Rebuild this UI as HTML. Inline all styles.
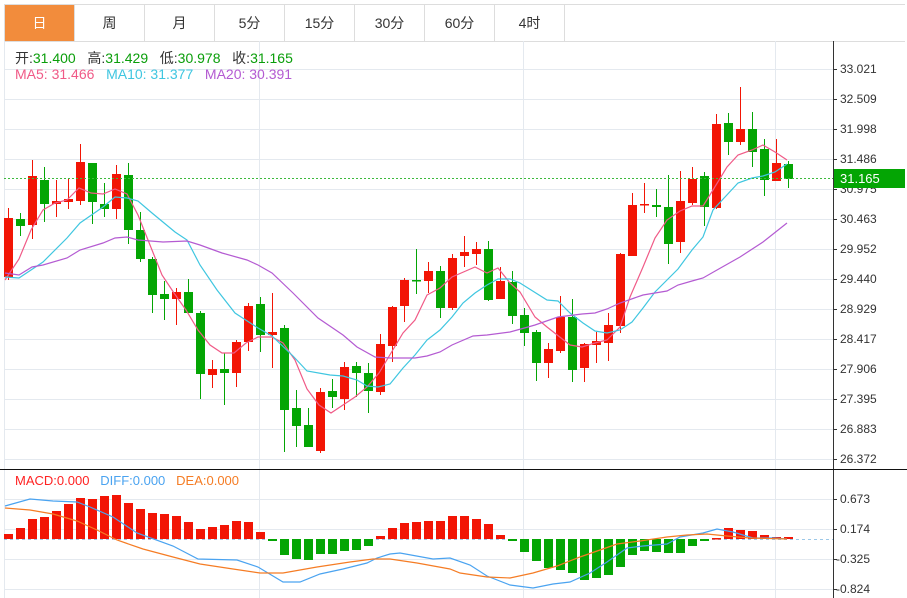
<!DOCTYPE html>
<html><head><meta charset="utf-8"><style>
body{margin:0;background:#fff;width:907px;height:598px;overflow:hidden;font-family:"Liberation Sans","Noto Sans CJK SC",sans-serif;}
.tabs{position:absolute;left:4px;top:4px;height:36px;display:flex;border:1px solid #ddd;border-right:none;}
.tabs div{width:69px;border-right:1px solid #ddd;text-align:center;line-height:36px;font-size:14px;color:#333;}
.tabs div.on{background:#f28c3c;color:#fff;}
.t{position:absolute;font-size:14px;white-space:nowrap;}
</style></head><body>
<div class="tabs"><div class="on">日</div><div>周</div><div>月</div><div>5分</div><div>15分</div><div>30分</div><div>60分</div><div>4时</div><div style="width:340px;border-right:none"></div></div>
<svg id="s" width="907" height="598" style="position:absolute;left:0;top:0" font-family="Liberation Sans, sans-serif" font-size="12"></svg>
<div class="t" style="left:15px;top:48px;color:#333">开:<span style="color:#0a9e0a">31.400</span>&nbsp;&nbsp; 高:<span style="color:#0a9e0a">31.429</span>&nbsp;&nbsp; 低:<span style="color:#0a9e0a">30.978</span>&nbsp;&nbsp; 收:<span style="color:#0a9e0a">31.165</span></div>
<div class="t" style="left:15px;top:66px;color:#f05a87">MA5: 31.466 &nbsp; <span style="color:#3fc6e0">MA10: 31.377</span> &nbsp; <span style="color:#b45bd2">MA20: 30.391</span></div>
<div class="t" style="left:15px;top:473px;color:#f22;font-size:13px">MACD:0.000 &nbsp; <span style="color:#4aa3f0">DIFF:0.000</span> &nbsp; <span style="color:#f57c24">DEA:0.000</span></div>
<script>
var s=document.getElementById('s'),h='';
function L(x1,y1,x2,y2,c,w,d){h+='<line x1="'+x1+'" y1="'+y1+'" x2="'+x2+'" y2="'+y2+'" stroke="'+c+'" stroke-width="'+(w||1)+'"'+(d?' stroke-dasharray="'+d+'"':'')+'/>';}
function P(pts,c){h+='<polyline fill="none" stroke="'+c+'" stroke-width="1.2" points="'+pts+'"/>';}
for(var y=69;y<=459;y+=30)L(4,y+.5,833,y+.5,'#e4e9ef');
[499,529,559,589].forEach(function(y){L(4,y+.5,833,y+.5,'#e4e9ef')});
[259,523,775].forEach(function(x){L(x+.5,41,x+.5,598,'#e4e9ef')});
L(4.5,41,4.5,598,'#e4e9ef');
var C=[[277,218,208,280],[219,226,213,236],[225,176,160,239],[180,204,167,222],[204,201,180,217],[202,199,179,209],[201,162,144,205],[163,202,163,224],[204,209,183,217],[209,174,165,219],[175,230,163,244],[230,259,212,262],[259,295,257,313],[294,299,281,320],[299,292,288,325],[292,313,279,313],[313,374,311,399],[375,369,360,388],[369,373,353,405],[373,342,340,387],[342,306,303,351],[304,335,297,352],[335,332,293,368],[328,410,325,452],[408,426,390,447],[425,447,408,447],[451,392,388,453],[391,397,379,408],[399,367,362,410],[366,373,362,397],[373,391,363,413],[392,344,334,395],[346,307,306,362],[306,280,278,322],[280,281,249,294],[281,271,262,293],[271,308,266,318],[308,258,254,310],[256,252,236,267],[254,249,242,265],[249,300,241,301],[299,281,267,299],[282,316,271,324],[315,333,308,346],[332,363,330,381],[363,349,343,378],[351,317,296,353],[317,370,299,382],[368,344,343,382],[345,341,332,363],[343,325,313,361],[326,254,253,333],[256,205,193,256],[205,204,183,213],[205,207,189,217],[207,244,175,264],[242,201,171,253],[203,179,167,205],[176,207,172,226],[208,124,114,209],[123,142,113,155],[142,129,87,145],[129,152,112,167],[149,180,139,196],[181,163,139,181],[164,179,161,188]];
var up=[0,2,4,5,6,9,14,17,19,20,22,26,28,31,32,33,35,37,38,39,41,45,46,48,49,50,51,52,53,56,57,59,61,64];
C.forEach(function(c,i){var x=8+12*i,r=up.indexOf(i)>=0,col=r?'#f21505':'#04a504';
L(x+.5,c[2],x+.5,c[3],col);var t=Math.min(c[0],c[1]),b=Math.max(c[0],c[1]);
h+='<rect x="'+(x-4)+'" y="'+t+'" width="9" height="'+Math.max(b-t,1.5)+'" fill="'+col+'"/>';});
P('5,280 19,259 31,230 43,210 55,203 67,200 79,188 91,193 103,194 115,189 127,194 138,215 150,245 162,275 174,293 186,310 198,330 210,345 222,353 234,353 246,343 258,337 272,337 283,343 295,360 307,389 319,405 331,413 343,405 355,397 367,387 379,373 391,353 403,333 415,320 427,295 440,288 452,277 475,267 487,273 498,268 510,283 520,292 535,317 547,327 570,345 582,347 595,343 607,340 620,327 630,297 643,267 655,238 667,220 680,211 692,206 703,206 713,190 727,167 738,155 752,150 763,145 775,152 787,160','#f05a87');
P('5,277 19,278 43,262 67,238 80,223 103,207 115,197 127,198 138,201 152,213 175,232 187,240 200,265 217,290 235,313 258,328 272,336 293,356 307,371 330,375 343,376 357,380 367,386 378,387 390,384 403,368 415,355 427,340 440,330 452,317 463,303 475,293 487,285 498,279 510,279 520,283 547,300 558,301 570,313 583,323 595,331 607,333 620,330 632,322 643,308 655,292 667,280 678,269 692,250 703,237 713,210 725,197 738,183 752,178 763,176 775,172 787,164','#3fc6e0');
P('5,273 19,275 32,267 43,265 67,258 80,250 103,243 115,238 127,237 138,240 163,242 187,241 200,245 222,253 247,260 258,265 272,273 293,293 318,318 343,335 357,347 375,357 390,358 415,358 427,356 440,352 452,345 473,336 487,335 510,332 528,327 535,325 558,317 582,314 595,313 607,309 620,303 643,295 667,291 678,285 692,281 703,278 717,270 740,257 763,242 787,223','#b45bd2');
L(4,178.5,833,178.5,'#3cba3c',1,'2,2');
L(4,539.5,833,539.5,'#9cc8e8',1,'3,3');
var M=[534,528,519,517,511,504,498,499,496,495,503,509,513,514,516,522,529,527,525,521,522,532,541,555,559,560,554,554,551,550,546,536,528,523,522,521,521,516,516,519,524,535,541,552,561,568,570,573,580,578,575,567,555,551,552,553,553,546,541,538,528,530,531,535,537,537];
M.forEach(function(v,i){var x=8+12*i;var r=v<539;h+='<rect x="'+(x-4)+'" y="'+Math.min(v,539)+'" width="9" height="'+Math.max(Math.abs(v-539),1.5)+'" fill="'+(r?'#f21505':'#04a504')+'"/>';});
P('5,506 30,499 53,501 77,502 90,507 113,517 137,533 173,546 198,559 237,560 258,567 283,582 300,582 320,574 343,569 367,563 377,558 390,554 400,553 433,559 450,558 470,565 487,576 510,585 533,588 553,584 570,582 590,573 607,562 627,548 643,546 667,544 680,537 703,533 717,529 733,532 753,538 773,538 787,539','#4aa3f0');
P('5,508 30,510 53,514 77,521 97,530 117,540 143,549 173,557 200,564 233,569 260,573 283,573 317,567 350,562 373,559 390,559 417,563 450,569 460,573 487,577 510,578 533,573 557,566 580,557 600,550 617,544 640,541 667,537 687,535 707,534 727,536 750,538 787,539','#f57c24');
L(833.5,41,833.5,598,'#333');L(0,469.5,907,469.5,'#111');
var pl=['33.021','32.509','31.998','31.486','30.975','30.463','29.952','29.440','28.929','28.417','27.906','27.395','26.883','26.372'];
pl.forEach(function(t,i){var y=69+30*i;L(833,y+.5,837,y+.5,'#333');h+='<text x="840" y="'+(y+4)+'" fill="#333">'+t+'</text>';});
[['0.673',499],['0.174',529],['-0.325',559],['-0.824',589]].forEach(function(a){L(833,a[1]+.5,837,a[1]+.5,'#333');h+='<text x="'+(a[0][0]=='-'?836:840)+'" y="'+(a[1]+4)+'" fill="#333">'+a[0]+'</text>';});
h+='<rect x="834" y="169" width="71" height="19" fill="#04a504"/><text x="840" y="183" fill="#fff" font-size="13">31.165</text>';
s.innerHTML=h;
</script>
</body></html>
